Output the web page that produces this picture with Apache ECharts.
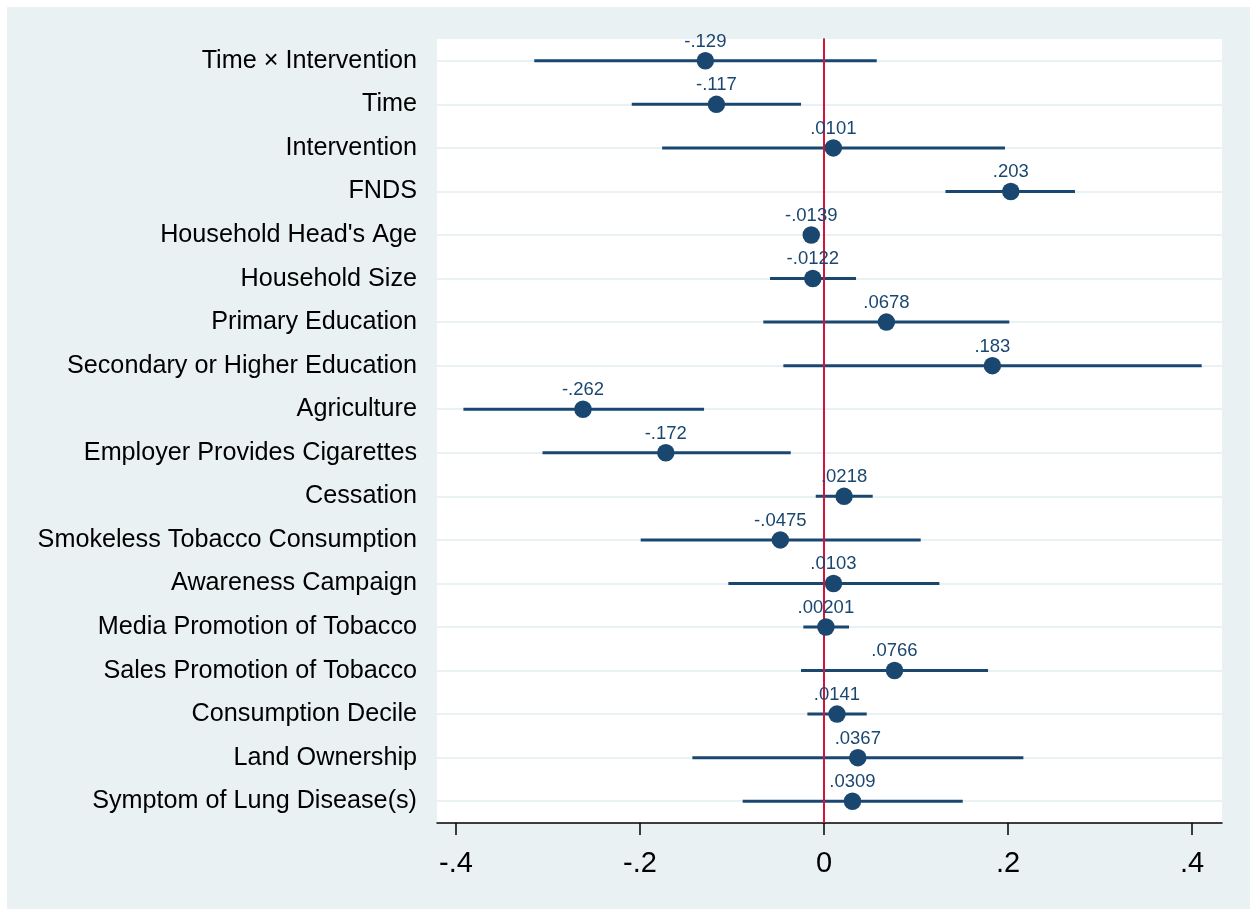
<!DOCTYPE html>
<html>
<head>
<meta charset="utf-8">
<script src="https://cdn.jsdelivr.net/npm/echarts@6/dist/echarts.min.js"></script>
<style>
html,body{margin:0;padding:0;background:#fff;}
#wrap{width:1250px;height:909px;position:relative;background:#fff;overflow:hidden;}
#c{position:absolute;left:7px;top:7px;width:1243px;height:902px;}
</style>
</head>
<body>
<div id="wrap"><div id="c"></div></div>
<script>
const categories = [
  "Time × Intervention", "Time", "Intervention", "FNDS",
  "Household Head's Age", "Household Size", "Primary Education",
  "Secondary or Higher Education", "Agriculture", "Employer Provides Cigarettes",
  "Cessation", "Smokeless Tobacco Consumption", "Awareness Campaign",
  "Media Promotion of Tobacco", "Sales Promotion of Tobacco",
  "Consumption Decile", "Land Ownership", "Symptom of Lung Disease(s)"
];
const estimates = [-0.129, -0.117, 0.0101, 0.203, -0.0139, -0.0122, 0.0678, 0.183,
  -0.262, -0.172, 0.0218, -0.0475, 0.0103, 0.00201, 0.0766, 0.0141, 0.0367, 0.0309];
const ciLow = [-0.315, -0.209, -0.176, 0.132, -0.019, -0.0587, -0.066, -0.0442,
  -0.392, -0.306, -0.009, -0.1993, -0.104, -0.0225, -0.025, -0.0181, -0.1431, -0.0884];
const ciHigh = [0.0573, -0.025, 0.1967, 0.2728, -0.0088, 0.0348, 0.2014, 0.4105,
  -0.1304, -0.0362, 0.0529, 0.1051, 0.1254, 0.0272, 0.1783, 0.0464, 0.2167, 0.1508];
const xTicks = [-0.4, -0.2, 0, 0.2, 0.4];

const NAVY = '#1a476f';
const RED = '#d2143c';
const BG = '#eaf1f3';
const FONT = '"Liberation Sans", Arial, Helvetica, sans-serif';

function stataFmt(v) {
  if (v === 0) return '0';
  return String(+v.toFixed(6)).replace('0.', '.');
}

const chart = echarts.init(document.getElementById('c'), null, {renderer: 'canvas'});
const option = {
  backgroundColor: BG,
  animation: false,
  grid: {
    left: 430, top: 32, width: 785, height: 784,
    show: true, backgroundColor: '#ffffff', borderWidth: 0,
    outerBoundsMode: 'none'
  },
  xAxis: {
    type: 'value',
    min: -0.4207, max: 0.4326,
    axisLine: {show: true, onZero: false, lineStyle: {color: '#000', width: 1.5}},
    axisTick: {show: true, length: 12, customValues: xTicks, lineStyle: {color: '#000', width: 1.5}},
    axisLabel: {show: true, customValues: xTicks, margin: 26, fontSize: 29, color: '#000',
      fontFamily: FONT, formatter: stataFmt},
    splitLine: {show: false}
  },
  yAxis: {
    type: 'category',
    data: categories,
    inverse: true,
    boundaryGap: true,
    axisLine: {show: true, lineStyle: {color: '#000', width: 1.5}},
    axisTick: {show: true, alignWithLabel: true, length: 12, interval: 0, lineStyle: {color: '#000', width: 1.5}},
    axisLabel: {show: true, interval: 0, margin: 20, fontSize: 25.2, color: '#000', fontFamily: FONT,
      padding: [3, 0, 0, 0]},
    splitLine: {show: false}
  },
  series: [
    {
      type: 'line', data: [], silent: true, z: 1,
      markLine: {
        silent: true, symbol: 'none', z: 1, animation: false,
        label: {show: false},
        lineStyle: {color: BG, width: 2, type: 'solid'},
        emphasis: {disabled: true},
        data: categories.map(c => ({yAxis: c}))
      }
    },
    {
      type: 'custom', z: 2, silent: true,
      data: categories.map((c, i) => [ciLow[i], ciHigh[i], i]),
      encode: {x: [0, 1], y: 2},
      renderItem: function (params, api) {
        const p1 = api.coord([api.value(0), api.value(2)]);
        const p2 = api.coord([api.value(1), api.value(2)]);
        return {
          type: 'line',
          shape: {x1: p1[0], y1: p1[1], x2: p2[0], y2: p2[1]},
          style: {stroke: NAVY, lineWidth: 3}
        };
      }
    },
    {
      type: 'line', data: [], silent: true, z: 3,
      markLine: {
        silent: true, symbol: 'none', z: 3, animation: false,
        label: {show: false},
        lineStyle: {color: RED, width: 2, type: 'solid'},
        emphasis: {disabled: true},
        data: [{xAxis: 0}]
      }
    },
    {
      type: 'scatter', z: 4,
      symbol: 'circle', symbolSize: 17.5,
      itemStyle: {color: NAVY, opacity: 1},
      data: categories.map((c, i) => [estimates[i], c]),
      label: {
        show: true, position: 'top', distance: 1,
        fontSize: 18.5, color: NAVY, fontFamily: FONT,
        formatter: p => stataFmt(p.value[0])
      },
      emphasis: {disabled: true}
    }
  ]
};
chart.setOption(option);
</script>
</body>
</html>
